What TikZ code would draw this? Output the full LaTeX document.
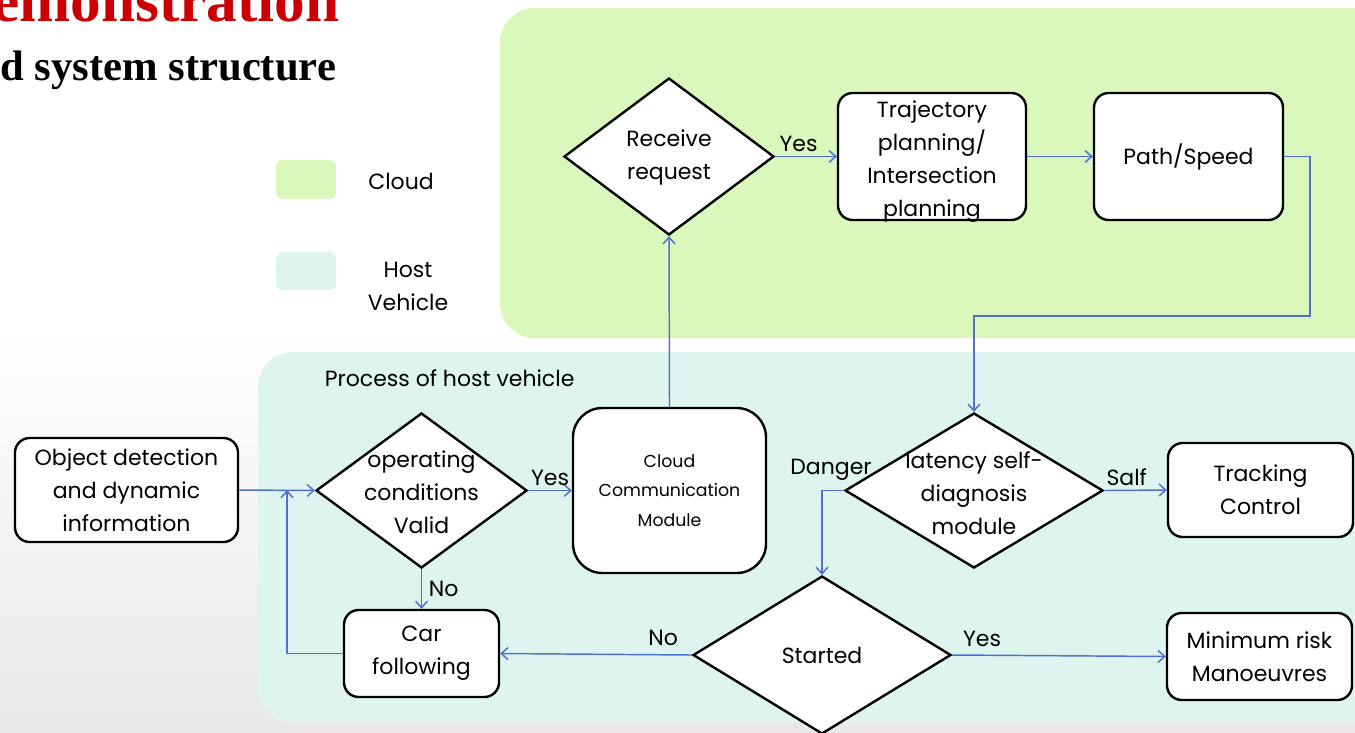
\documentclass[tikz,border=0pt]{standalone}
\usepackage{fontspec}
\setmainfont{Poppins}
\newfontfamily\titlefont{Liberation Serif}
\usetikzlibrary{shapes.geometric,arrows.meta}
\definecolor{cloudbg}{RGB}{218,247,188}
\definecolor{hostbg}{RGB}{221,245,238}
\definecolor{conncol}{RGB}{80,112,214}
\definecolor{titlered}{RGB}{204,0,0}
\newcommand{\txt}{\fontsize{16.5}{24.75}\selectfont}
\newcommand{\smalltxt}{\fontsize{13}{22}\selectfont}
\begin{document}
\begin{tikzpicture}[x=0.75pt,y=-0.75pt,
  box/.style={draw=black, line width=1.8pt, rounded corners=11pt, fill=white, align=center, font=\txt, inner sep=0pt},
  dia/.style={diamond, draw=black, line width=1.8pt, fill=white, inner sep=0pt},
  lbl/.style={font=\txt, align=center, inner sep=2pt},
  conn/.style={draw=conncol, line width=1.1pt, -{Straight Barb[length=5pt,width=9pt]}},
  region/.style={rounded corners=26pt}]
\useasboundingbox (0,0) rectangle (1355,732);
\clip (0,0) rectangle (1355,732);
% background
\fill[white] (0,0) rectangle (1355,732);
\shade[top color=white, bottom color=gray!18] (0,330) rectangle (1355,732);
% title
\node[anchor=base east, inner sep=0pt, text=titlered, font=\titlefont\bfseries\fontsize{46}{50}\selectfont] (t1) at (340,21) {Demonstration};
\node[anchor=base west, inner sep=0pt, font=\titlefont\bfseries\fontsize{32}{36}\selectfont] (t2) at (0,80) {d system structure};
% regions
\fill[cloudbg, region] (500,8) rectangle (1390,338);
\fill[hostbg, region] (258,352) rectangle (1390,722);
% legend
\fill[cloudbg, rounded corners=5pt] (276,160) rectangle (336,199);
\fill[hostbg, rounded corners=5pt] (276,252) rectangle (336,290);
\node[lbl] (lcloud) at (401,181) {Cloud};
\node[lbl] (lhost) at (408,286) {Host\\Vehicle};
\node[lbl, anchor=west] (proc) at (322,378) {Process of host vehicle};
% nodes
\node[box, minimum width=167.25pt, minimum height=78pt] (obj) at (126.5,490) {Object detection\\and dynamic\\information};
\node[dia, minimum width=158.25pt, minimum height=116.25pt, label={[lbl, yshift=-1pt]center:{operating\\conditions\\Valid}}] (op) at (421.5,490.5) {};
\node[box, rounded corners=22pt, minimum width=144.75pt, minimum height=123.75pt, font=\smalltxt] (ccm) at (669.5,490.5) {Cloud\\Communication\\Module};
\node[dia, minimum width=157.5pt, minimum height=117.75pt, label={[lbl, yshift=-1pt]center:{Receive\\request}}] (recv) at (669,156.5) {};
\node[box, minimum width=141pt, minimum height=95.25pt, label={[lbl, yshift=-3.5pt]center:{Trajectory\\planning/\\Intersection\\planning}}] (traj) at (932,156.5) {};
\node[box, minimum width=141.75pt, minimum height=95.25pt] (path) at (1188.5,156.5) {Path/Speed};
\node[dia, minimum width=193.5pt, minimum height=116.25pt, label={[lbl, yshift=-2pt]center:{latency self-\\diagnosis\\module}}] (lat) at (974,490.5) {};
\node[box, minimum width=138.75pt, minimum height=70.5pt] (track) at (1260.5,490) {Tracking\\Control};
\node[dia, minimum width=193.5pt, minimum height=118.5pt, label={[lbl]center:{Started}}] (started) at (822,655) {};
\node[box, minimum width=116.25pt, minimum height=65.25pt] (car) at (421.5,653.5) {Car\\following};
\node[box, minimum width=138.75pt, minimum height=65.25pt] (minrisk) at (1259.5,656.5) {Minimum risk\\Manoeuvres};
% coordinates
\coordinate (j1) at (287,490);
\coordinate (p2) at (1310,316);
% connectors
\draw[conn] (obj.east) -- (op.west);
\draw[conn] (car.west) -| (j1);
\draw[conn] (op.south) -- node[lbl, right=3pt] (no1) {No} (car.north);
\draw[conn] (op.east) -- node[lbl, above=1pt] (yes1) {Yes} (ccm.west);
\draw[conn] (ccm.north) -- (recv.south);
\draw[conn] (recv.east) -- node[lbl, above=1pt, pos=0.38] (yes2) {Yes} (traj.west);
\draw[conn] (traj.east) -- (path.west);
\draw[conn] (path.east) -| (p2) -| (lat.north);
\draw[conn] (lat.west) -| (started.north);
\node[lbl] (danger) at (831,470) {Danger};
\draw[conn] (lat.east) -- node[lbl, above=1pt, pos=0.36] (salf) {Salf} (track.west);
\draw[conn] (started.west) -- node[lbl, above=4pt, pos=0.15] (no2) {No} (car.east);
\draw[conn] (started.east) -- node[lbl, above=4pt, pos=0.14] (yes3) {Yes} (minrisk.west);
\end{tikzpicture}
\end{document}
